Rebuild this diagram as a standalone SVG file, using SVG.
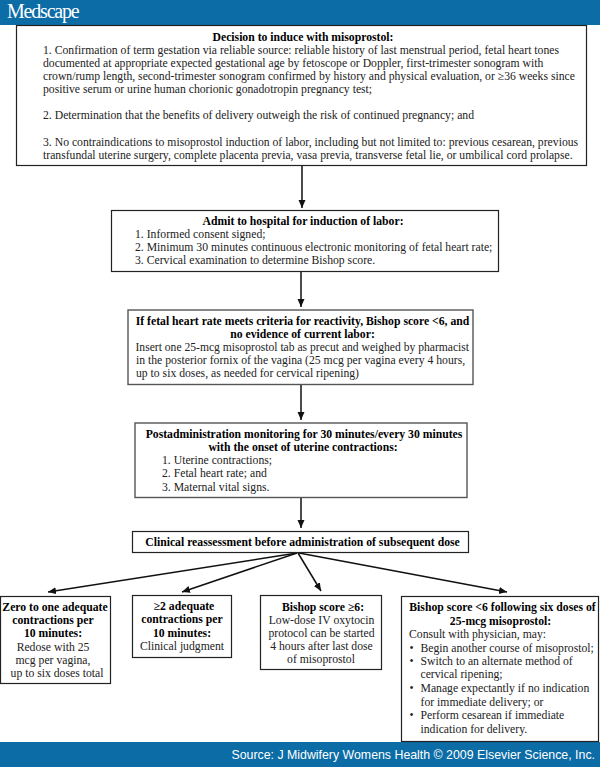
<svg xmlns="http://www.w3.org/2000/svg" width="600" height="767" viewBox="0 0 600 767">
<style>
text{font-family:"Liberation Serif","Times New Roman",serif;font-size:11.7px;fill:#222}
.b{font-weight:bold;fill:#000}
.m{text-anchor:middle}
.n{fill:#fff;stroke:#222;stroke-width:1.2}
.g{stroke:#555;stroke-width:1.4}
.c{stroke:#111;stroke-width:1.5;fill:none;marker-end:url(#a)}
.bar{fill:#0b6ca6}
</style>
<defs><marker id="a" markerUnits="userSpaceOnUse" markerWidth="10" markerHeight="8" refX="8" refY="3.500" orient="auto"><path d="M0 0L8 3.500L0 7Z" fill="#111"/></marker></defs>
<rect width="600" height="767" fill="#fff"/>
<rect class="bar" width="600" height="25"/>
<rect class="bar" y="742" width="600" height="25"/>
<text x="7" y="18" style="font-size:20px;fill:#fff;letter-spacing:-1.2px">Medscape</text>
<text x="595" y="759" text-anchor="end" style="font-family:'Liberation Sans',Arial,sans-serif;font-size:12.35px;fill:#fff">Source: J Midwifery Womens Health © 2009 Elsevier Science, Inc.</text>
<g id="connectors">
<path class="c" d="M302 166V208"/>
<path class="c" d="M301 272V307"/>
<path class="c" d="M301 385V420"/>
<path class="c" d="M301 498V528"/>
<path class="c" d="M297 553L48 592"/>
<path class="c" d="M297 553L182 592"/>
<path class="c" d="M298 553L321 591"/>
<path class="c" d="M299 553L507 592"/>
</g>
<g id="n1"><rect class="n" x="16.500" y="25.500" width="570" height="140"/>
<text class="b m" x="303" y="41">Decision to induce with misoprostol:</text>
<text x="43" y="54">1. Confirmation of term gestation via reliable source: reliable history of last menstrual period, fetal heart tones</text>
<text x="43" y="67">documented at appropriate expected gestational age by fetoscope or Doppler, first-trimester sonogram with</text>
<text x="43" y="80">crown/rump length, second-trimester sonogram confirmed by history and physical evaluation, or ≥36 weeks since</text>
<text x="43" y="93">positive serum or urine human chorionic gonadotropin pregnancy test;</text>
<text x="43" y="119">2. Determination that the benefits of delivery outweigh the risk of continued pregnancy; and</text>
<text x="43" y="146">3. No contraindications to misoprostol induction of labor, including but not limited to: previous cesarean, previous</text>
<text x="43" y="159">transfundal uterine surgery, complete placenta previa, vasa previa, transverse fetal lie, or umbilical cord prolapse.</text></g>
<g id="n2"><rect class="n" x="111.500" y="210.500" width="387" height="61"/>
<text class="b m" x="303" y="225">Admit to hospital for induction of labor:</text>
<text x="135" y="238">1. Informed consent signed;</text>
<text x="135" y="251">2. Minimum 30 minutes continuous electronic monitoring of fetal heart rate;</text>
<text x="135" y="264">3. Cervical examination to determine Bishop score.</text></g>
<g id="n3"><rect class="n g" x="128" y="310" width="345" height="74.500"/>
<text class="b m" x="302.500" y="325">If fetal heart rate meets criteria for reactivity, Bishop score &lt;6, and</text>
<text class="b m" x="302.500" y="338">no evidence of current labor:</text>
<text x="135.500" y="351" style="font-size:11.6px">Insert one 25-mcg misoprostol tab as precut and weighed by pharmacist</text>
<text x="136" y="364">in the posterior fornix of the vagina (25 mcg per vagina every 4 hours,</text>
<text x="136" y="377">up to six doses, as needed for cervical ripening)</text></g>
<g id="n4"><rect class="n g" x="135" y="423" width="332" height="74.500"/>
<text class="b m" x="304" y="438">Postadministration monitoring for 30 minutes/every 30 minutes</text>
<text class="b m" x="303" y="451">with the onset of uterine contractions:</text>
<text x="162" y="464">1. Uterine contractions;</text>
<text x="162" y="477">2. Fetal heart rate; and</text>
<text x="162" y="491">3. Maternal vital signs.</text></g>
<g id="n5"><rect class="n" x="132.500" y="531.500" width="336" height="21"/>
<text class="b m" x="302.500" y="546">Clinical reassessment before administration of subsequent dose</text></g>
<g id="n6"><rect class="n" x="0.500" y="596.500" width="110" height="87"/>
<text class="b m" x="55" y="611">Zero to one adequate</text>
<text class="b m" x="53" y="624">contractions per</text>
<text class="b m" x="53" y="637">10 minutes:</text>
<text class="m" x="53" y="651">Redose with 25</text>
<text class="m" x="53" y="664">mcg per vagina,</text>
<text class="m" x="57" y="677">up to six doses total</text></g>
<g id="n7"><rect class="n" x="132.500" y="595.500" width="99" height="62"/>
<text class="b m" x="184" y="610">≥2 adequate</text>
<text class="b m" x="182" y="623">contractions per</text>
<text class="b m" x="182" y="637">10 minutes:</text>
<text class="m" x="182" y="650">Clinical judgment</text></g>
<g id="n8"><rect class="n" x="260.500" y="595.500" width="121" height="74"/>
<text class="b m" x="323" y="611">Bishop score ≥6:</text>
<text class="m" x="321.500" y="624">Low-dose IV oxytocin</text>
<text class="m" x="321.500" y="637">protocol can be started</text>
<text class="m" x="321.500" y="650">4 hours after last dose</text>
<text class="m" x="321" y="663">of misoprostol</text></g>
<g id="n9"><rect class="n" x="401.500" y="596.500" width="197" height="145"/>
<text class="b m" x="502.500" y="611">Bishop score &lt;6 following six doses of</text>
<text class="b m" x="500.500" y="625">25-mcg misoprostol:</text>
<text x="409" y="638">Consult with physician, may:</text>
<text x="409.500" y="652">•</text><text x="420.500" y="652">Begin another course of misoprostol;</text>
<text x="409.500" y="665">•</text><text x="420.500" y="665">Switch to an alternate method of</text>
<text x="420.500" y="678">cervical ripening;</text>
<text x="409.500" y="692">•</text><text x="420.500" y="692">Manage expectantly if no indication</text>
<text x="420.500" y="706">for immediate delivery; or</text>
<text x="409.500" y="719">•</text><text x="420.500" y="719">Perform cesarean if immediate</text>
<text x="420.500" y="733">indication for delivery.</text></g>
</svg>
